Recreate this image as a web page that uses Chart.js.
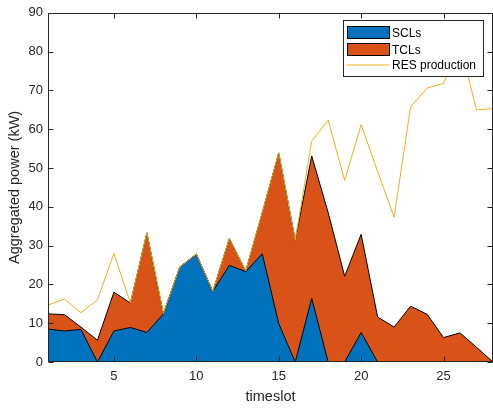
<!DOCTYPE html>
<html>
<head>
<meta charset="utf-8">
<script src="https://cdn.jsdelivr.net/npm/chart.js@4/dist/chart.umd.min.js"></script>
<style>
  html, body { margin: 0; padding: 0; background: #fff; }
  canvas { display: block; }
</style>
</head>
<body>
<canvas id="powerChart" width="493" height="409"></canvas>
<script>
const timeslots = [1, 2, 3, 4, 5, 6, 7, 8, 9, 10, 11, 12, 13, 14, 15, 16, 17, 18, 19, 20, 21, 22, 23, 24, 25, 26, 27, 28];
const sclLoad = [8.5, 8.0, 8.4, 0, 8.0, 8.9, 7.6, 12.4, 24.5, 27.8, 18.2, 24.9, 23.3, 27.9, 9.9, 0, 16.4, 0, 0, 7.6, 0, 0, 0, 0, 0, 0, 0, 0];
const tclLoad = [3.9, 4.2, 0.6, 5.6, 10.0, 6.3, 25.7, 0, 0, 0, 0, 6.9, 0.2, 10.6, 44.0, 31.4, 36.7, 38.5, 22.1, 25.3, 11.6, 9.0, 14.4, 12.3, 6.3, 7.5, 3.8, 0];
const resProduction = [14.7, 16.2, 12.7, 16.0, 28.0, 15.2, 33.3, 12.5, 24.5, 27.8, 18.2, 31.8, 23.5, 38.5, 53.9, 31.4, 56.9, 62.3, 46.8, 61.2, 49.1, 37.3, 65.7, 70.6, 71.8, 82.0, 65.0, 65.3];
const xTicks = [5, 10, 15, 20, 25];
const yTicks = [0, 10, 20, 30, 40, 50, 60, 70, 80, 90];

const seriesNames = ["SCLs", "TCLs", "RES production"];
const colors = ["#0072BD", "#D95319", "#EDB120"];
const axisColor = "#262626";
const fontFamily = "'Liberation Sans', Arial, Helvetica, sans-serif";

const toPoints = (values) => values.map((v, i) => ({ x: timeslots[i], y: v }));

// box + inward ticks like matlab
const axesBox = {
  id: "axesBox",
  afterDatasetsDraw(chart) {
    const { ctx, chartArea: a, scales } = chart;
    const L = Math.round(a.left) + 0.5, R = Math.round(a.right) - 0.5;
    const T = Math.round(a.top) + 0.5, B = Math.round(a.bottom) - 0.5;
    ctx.save();
    ctx.strokeStyle = axisColor;
    ctx.lineWidth = 1;
    ctx.beginPath();
    ctx.rect(L, T, R - L, B - T);
    yTicks.forEach(v => {
      const y = Math.round(scales.y.getPixelForValue(v)) + 0.5;
      ctx.moveTo(L, y); ctx.lineTo(L + 5, y);
      ctx.moveTo(R, y); ctx.lineTo(R - 5, y);
    });
    xTicks.forEach(v => {
      const x = Math.round(scales.x.getPixelForValue(v)) + 0.5;
      ctx.moveTo(x, B); ctx.lineTo(x, B - 5);
      ctx.moveTo(x, T); ctx.lineTo(x, T + 5);
    });
    ctx.stroke();
    ctx.restore();
  }
};

const legendBox = {
  id: "legendBox",
  afterDraw(chart) {
    const { ctx } = chart;
    const box = { x: 343.5, y: 20.5, w: 140, h: 56 };
    ctx.save();
    ctx.fillStyle = "#fff";
    ctx.strokeStyle = axisColor;
    ctx.lineWidth = 1;
    ctx.fillRect(box.x, box.y, box.w, box.h);
    ctx.strokeRect(box.x, box.y, box.w, box.h);
    const rows = [32.5, 49.5, 65];
    ctx.font = "12px " + fontFamily;
    ctx.textBaseline = "middle";
    rows.forEach((cy, i) => {
      if (i < 2) {
        ctx.fillStyle = colors[i];
        ctx.fillRect(347.5, cy - 6, 42, 12);
        ctx.strokeStyle = "#000";
        ctx.strokeRect(347.5, cy - 6, 42, 12);
      } else {
        ctx.strokeStyle = colors[2];
        ctx.beginPath();
        ctx.moveTo(347, cy); ctx.lineTo(389, cy);
        ctx.stroke();
      }
      ctx.fillStyle = "#000";
      ctx.fillText(seriesNames[i], 392, cy + 1);
    });
    ctx.restore();
  }
};

new Chart(document.getElementById("powerChart"), {
  type: "line",
  data: {
    datasets: [
      {
        label: seriesNames[0],
        data: toPoints(sclLoad),
        stack: "loads",
        order: 1,
        fill: "origin",
        backgroundColor: colors[0],
        borderColor: "#000",
        borderWidth: 1,
        pointRadius: 0,
        tension: 0
      },
      {
        label: seriesNames[1],
        data: toPoints(tclLoad),
        stack: "loads",
        order: 2,
        fill: "-1",
        backgroundColor: colors[1],
        borderColor: "#000",
        borderWidth: 1,
        pointRadius: 0,
        tension: 0
      },
      {
        label: seriesNames[2],
        data: toPoints(resProduction),
        stack: "res",
        order: 0,
        fill: false,
        borderColor: colors[2],
        borderWidth: 1,
        pointRadius: 0,
        tension: 0
      }
    ]
  },
  options: {
    responsive: false,
    devicePixelRatio: 1,
    animation: false,
    layout: { padding: { top: 10, right: 0, left: 0, bottom: 0 } },
    plugins: {
      legend: { display: false },
      tooltip: { enabled: false }
    },
    scales: {
      x: {
        type: "linear",
        min: 1,
        max: 28,
        grid: { display: false, drawTicks: false },
        border: { display: false },
        afterBuildTicks: (scale) => { scale.ticks = xTicks.map(v => ({ value: v })); },
        afterFit: (scale) => { scale.height = 47; },
        ticks: {
          color: axisColor,
          padding: 7,
          maxRotation: 0,
          font: { family: fontFamily, size: 13 }
        },
        title: {
          display: true,
          text: "timeslot",
          color: axisColor,
          padding: { top: 0, bottom: 3 },
          font: { family: fontFamily, size: 14.5 }
        }
      },
      y: {
        stacked: true,
        min: 0,
        max: 90,
        grid: { display: false, drawTicks: false },
        border: { display: false },
        afterBuildTicks: (scale) => { scale.ticks = yTicks.map(v => ({ value: v })); },
        afterFit: (scale) => { scale.width = 48; },
        ticks: {
          color: axisColor,
          padding: 5,
          font: { family: fontFamily, size: 13 }
        },
        title: {
          display: true,
          text: "Aggregated power (kW)",
          color: axisColor,
          padding: { top: 6, bottom: 0 },
          font: { family: fontFamily, size: 14.5 }
        }
      }
    }
  },
  plugins: [axesBox, legendBox]
});
</script>
</body>
</html>
